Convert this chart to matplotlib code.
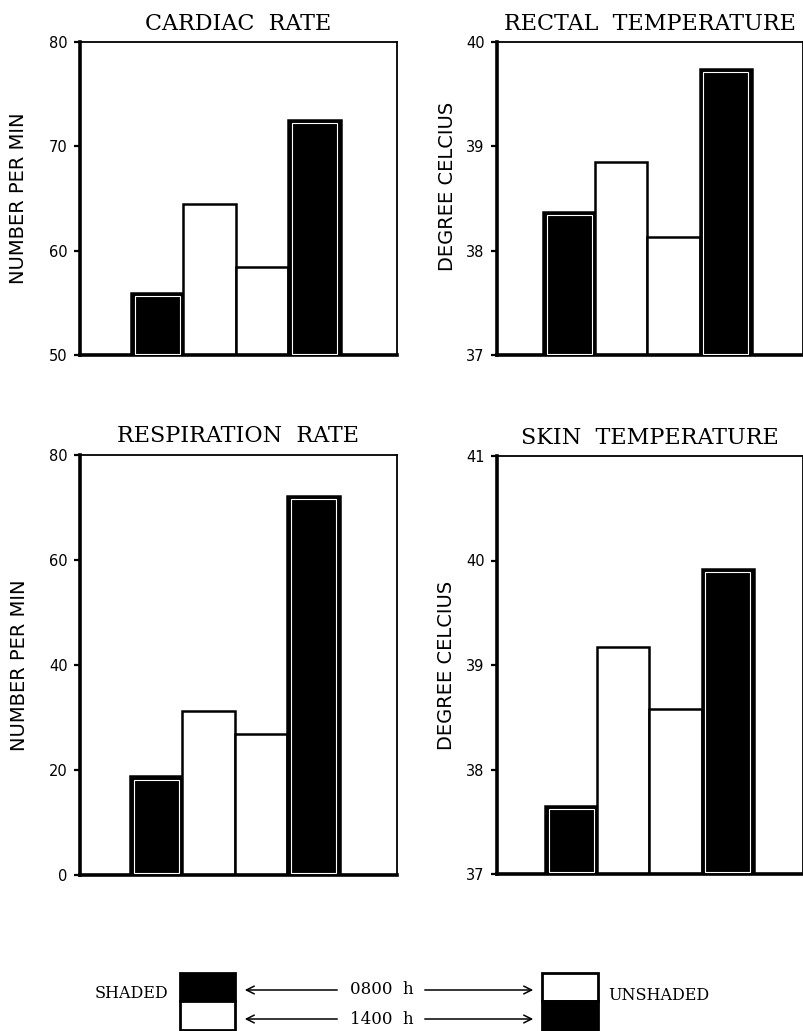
import matplotlib.pyplot as plt
from matplotlib.patches import Rectangle

# bar order: shaded 0800, shaded 1400, unshaded 0800, unshaded 1400
groups = ["SHADED 0800", "SHADED 1400", "UNSHADED 0800", "UNSHADED 1400"]
bar_colors = ["black", "white", "white", "black"]

cardiac = [55.9, 64.5, 58.4, 72.5]
rectal = [38.37, 38.85, 38.13, 39.74]
respiration = [18.8, 31.2, 26.8, 72.2]
skin = [37.65, 39.17, 38.58, 39.92]

titles = ["CARDIAC  RATE", "RECTAL  TEMPERATURE", "RESPIRATION  RATE", "SKIN  TEMPERATURE"]
ylabels = ["NUMBER PER MIN", "DEGREE CELCIUS", "NUMBER PER MIN", "DEGREE CELCIUS"]
yticks = [[50, 60, 70, 80], [37, 38, 39, 40], [0, 20, 40, 60, 80], [37, 38, 39, 40, 41]]
values = [cardiac, rectal, respiration, skin]

W, H = 804, 1031
fig = plt.figure(figsize=(W / 100, H / 100), dpi=100)

# panel boxes in pixels: left, right, top, bottom ; x-limits ; y label x (px)
boxes = [(80, 397, 42, 355), (497, 803, 42, 355), (80, 397, 455, 875), (497, 803, 456, 874)]
xlims = [(-1.47, 4.57), (-1.38, 4.48), (-1.45, 4.59), (-1.42, 4.44)]
ylab_x = [28, 457, 29, 456]
ylab_y = [0.5, 0.54, 0.5, 0.5]

serif = ["DejaVu Serif"]
x = range(len(groups))

for i in range(4):
    l, r, t, b = boxes[i]
    ax = fig.add_axes([l / W, 1 - b / H, (r - l) / W, (b - t) / H])
    vals = values[i]
    lo = yticks[i][0]
    heights = [v - lo for v in vals]
    ax.bar(x, heights, width=1.0, bottom=lo, color=bar_colors,
           edgecolor="black", linewidth=1.8, zorder=2)
    # thin white inner frame on the dark bars
    dark = [j for j in x if bar_colors[j] == "black"]
    span = yticks[i][-1] - lo
    ax.bar(dark, [heights[j] - span * 0.012 for j in dark], width=0.86,
           bottom=lo + span * 0.004, color="none", edgecolor="white",
           linewidth=0.8, zorder=3)
    ax.set_xlim(*xlims[i])
    ax.set_ylim(lo, yticks[i][-1])
    ax.set_yticks(yticks[i])
    ax.set_xticks([])
    ax.tick_params(axis="y", direction="out", length=4, width=1.6,
                   pad=5, labelsize=10.5)
    for s in ["left", "bottom"]:
        ax.spines[s].set_linewidth(2.6)
    for s in ["top", "right"]:
        ax.spines[s].set_linewidth(1.3)
    ax.set_title(titles[i], fontsize=16, family=serif, pad=9)
    ax.set_ylabel(ylabels[i], fontsize=14)
    ax.yaxis.set_label_coords((ylab_x[i] - l) / (r - l), ylab_y[i])

# legend drawn in pixel space
lg = fig.add_axes([0, 0, 1, 1], zorder=-1)
lg.set_xlim(0, W)
lg.set_ylim(H, 0)
lg.axis("off")

lg.add_patch(Rectangle((180, 973), 55, 28, facecolor="black", edgecolor="black", lw=2))
lg.add_patch(Rectangle((180, 1001), 55, 29, facecolor="white", edgecolor="black", lw=2))
lg.add_patch(Rectangle((542, 973), 56, 28, facecolor="white", edgecolor="black", lw=2))
lg.add_patch(Rectangle((542, 1001), 56, 29, facecolor="black", edgecolor="black", lw=2))

lg.text(168, 994, "SHADED", ha="right", va="center", fontsize=11.5, family=serif)
lg.text(608, 995, "UNSHADED", ha="left", va="center", fontsize=11.5, family=serif)

for yy, lab in [(990, "0800  h"), (1019, "1400  h")]:
    lg.text(382, yy, lab, ha="center", va="center", fontsize=12, family=serif)
    lg.annotate("", xy=(242, yy), xytext=(340, yy),
                arrowprops=dict(arrowstyle="->", lw=1.1, color="black",
                                mutation_scale=14))
    lg.annotate("", xy=(536, yy), xytext=(422, yy),
                arrowprops=dict(arrowstyle="->", lw=1.1, color="black",
                                mutation_scale=14))

fig.savefig("out.png", dpi=100)
